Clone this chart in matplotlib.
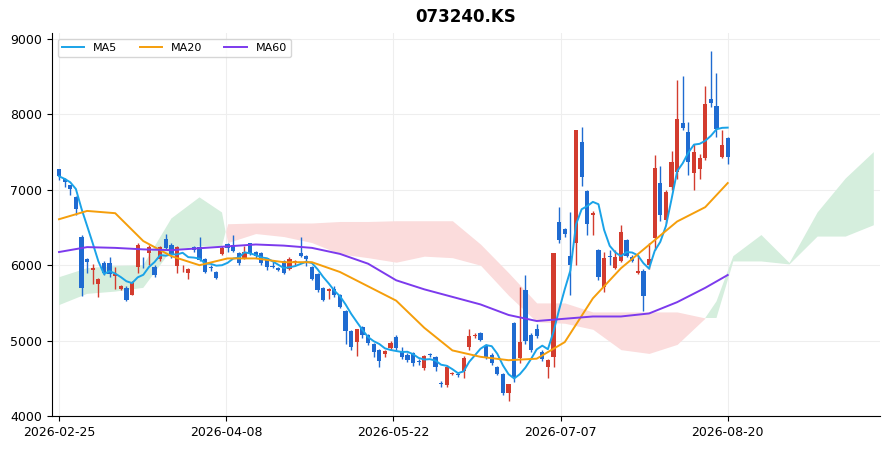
import matplotlib
matplotlib.use("Agg")
import matplotlib.pyplot as plt
import numpy as np
import pandas as pd

opens = [7270,7140,7060,6905,6374,6080,5940,5750,6030,6030,5860,5685,5700,5610,5975,6060,6160,5975,6080,6350,
         6270,5990,5970,5900,6240,6240,6080,5970,5910,6150,6280,6270,6160,6095,6295,6175,6160,6095,5990,5960,
         6055,5950,6030,6160,6120,5975,5885,5700,5660,5685,5605,5390,5125,4980,5180,5075,4955,4875,4820,4900,
         5050,4850,4810,4835,4730,4635,4820,4785,4440,4410,4560,4550,4595,4915,5060,5100,4930,4810,4650,4555,
         4305,5235,4770,5670,5075,5155,4850,4650,4785,6575,6480,6120,6300,7635,6985,6670,6200,5710,6120,5965,
         6055,6335,6110,5900,5925,6000,6360,7090,6600,7035,7235,7885,7765,7225,7275,7420,8205,8110,7435,7685]
highs = [7280,7160,7070,6920,6400,6100,6020,5830,6050,6110,5980,5740,5720,5790,6290,6110,6270,6000,6260,6420,
         6290,6250,6000,5960,6250,6375,6100,6000,5920,6250,6300,6400,6180,6260,6300,6190,6170,6100,6040,5980,
         6070,6110,6070,6375,6130,5990,5900,5710,5700,5730,5620,5400,5140,5160,5200,5090,4970,4890,4870,5000,
         5070,4920,4830,4850,4760,4810,4830,4800,4460,4670,4590,4560,4790,5150,5100,5110,4950,4830,4660,4570,
         4430,5250,5710,5870,5100,5220,4880,4760,6160,6770,6500,6700,7800,7830,7000,6720,6220,6170,6200,6200,
         6540,6350,6130,6140,5950,6300,7460,7320,7000,7510,8460,8510,7900,7610,7480,8380,8840,8550,7800,7700]
lows = [7130,7040,6930,6665,5590,5900,5750,5580,5870,5850,5680,5670,5530,5600,5900,5960,6000,5850,6060,6210,
        6100,5900,5910,5820,6180,6050,5900,5920,5820,6130,6180,6170,6000,6080,6130,6100,6000,5940,5960,5920,
        5880,5930,6000,6110,5990,5800,5650,5520,5550,5580,5430,4950,4880,4800,5040,4940,4780,4650,4780,4880,
        4880,4750,4720,4660,4680,4610,4780,4600,4380,4390,4540,4520,4500,4880,5040,4990,4760,4680,4540,4280,
        4200,4450,4700,4960,4850,5040,4730,4500,4650,6300,6380,5600,6000,7050,6400,6400,5800,5650,6000,5950,
        6040,6110,6040,5880,5390,5950,6200,6580,6560,7000,7150,7800,7200,7000,7150,7400,8100,7700,7420,7340]
closes = [7180,7110,7010,6745,5700,6040,5960,5817,5900,5890,5880,5725,5540,5780,6270,6050,6240,5870,6240,6230,
          6135,6240,5980,5950,6200,6070,5910,5960,5830,6230,6230,6190,6030,6175,6160,6120,6030,5975,5975,5935,
          5900,6080,6050,6120,6080,5815,5670,5540,5685,5600,5445,5125,4915,5150,5075,4970,4850,4730,4860,4970,
          4900,4785,4745,4700,4720,4795,4810,4650,4425,4650,4570,4545,4770,5060,5075,5010,4785,4700,4555,4305,
          4425,4505,4980,4995,4875,5060,4755,4745,6160,6335,6410,6000,7795,7170,6545,6690,5845,6095,6110,6110,
          6440,6120,6060,5925,5590,6080,7290,6665,6970,7370,7940,7820,7370,7500,7420,8140,8150,7805,7595,7435]
date_labels = ["2026-02-25", "2026-04-08", "2026-05-22", "2026-07-07", "2026-08-20"]

ma_idx = [0,5,10,15,20,25,30,35,40,45,50,55,60,65,70,75,80,85,90,95,100,105,110,115,119]
ma20 = [6610,6720,6690,6320,6120,6000,6090,6090,6040,6040,5910,5720,5530,5170,4870,4785,4740,4760,4980,5560,
        5960,6270,6580,6770,7090]
ma60 = [6175,6240,6230,6210,6200,6225,6250,6275,6260,6230,6150,6020,5800,5680,5580,5480,5340,5260,5290,5320,
        5320,5360,5510,5700,5870]

cloud_idx = [0,5,10,15,20,25,29,30,35,40,45,50,55,60,65,70,75,80,85,90,95,100,105,110,115,117,120,125,130,135,140,145]
span_a = [5840,5960,5990,6000,6620,6900,6700,6300,6420,6380,6300,6150,6100,6040,6120,6100,6000,5600,5250,5230,
          5150,4880,4830,4950,5300,5520,6120,6400,6030,6700,7150,7500]
span_b = [5470,5620,5650,5700,6200,6250,6250,6550,6560,6560,6560,6580,6580,6590,6590,6590,6280,5900,5500,5500,
          5380,5380,5380,5380,5300,5300,6050,6050,6010,6380,6380,6530]

c_up, c_dn = "#d33c2e", "#1f6bd1"

fig = plt.figure(figsize=(8.91, 4.51), dpi=100)
ax = fig.add_axes([52/891, 1-416/451, (880-52)/891, (416-33)/451])

ci = np.array(cloud_idx, float)
a = np.array(span_a, float); b = np.array(span_b, float)
xf = np.linspace(0, 145, 1451)
af = np.interp(xf, ci, a); bf = np.interp(xf, ci, b)
ax.fill_between(xf, af, bf, where=af >= bf, color="#d5eedd", lw=0, interpolate=True, zorder=1)
ax.fill_between(xf, af, bf, where=af < bf, color="#fbdcdc", lw=0, interpolate=True, zorder=1)

n = len(closes)
x = np.arange(n)
for i in x:
    o, h, l, c = opens[i], highs[i], lows[i], closes[i]
    col = c_up if c >= o else c_dn
    ax.vlines(i, l, h, color=col, lw=1, zorder=3)
    ax.bar(i, max(abs(c - o), 12), bottom=min(o, c), width=0.75, color=col, zorder=3)

ma5 = pd.Series(closes).rolling(5, min_periods=1).mean()
ax.plot(x, ma5, color="#1aa3e8", lw=1.4, label="MA5", zorder=4)
ax.plot(ma_idx, ma20, color="#f59e0b", lw=1.4, label="MA20", zorder=4)
ax.plot(ma_idx, ma60, color="#7c3aed", lw=1.4, label="MA60", zorder=4)

ax.set_xlim(-1.25, 146.1)
ax.set_ylim(4000, 9080)
ax.set_yticks([4000, 5000, 6000, 7000, 8000, 9000])
ax.set_xticks(np.linspace(0, n - 1, 5))
ax.set_xticklabels(date_labels)
ax.tick_params(labelsize=9)
ax.grid(True, color="#eeeeee", lw=0.8)
ax.set_axisbelow(True)
for s in ["top", "right"]:
    ax.spines[s].set_visible(False)
ax.set_title("073240.KS", fontsize=12, fontweight="bold", pad=8)
ax.legend(loc="upper left", ncol=3, fontsize=8, frameon=True)
fig.savefig("out.png", dpi=100)
